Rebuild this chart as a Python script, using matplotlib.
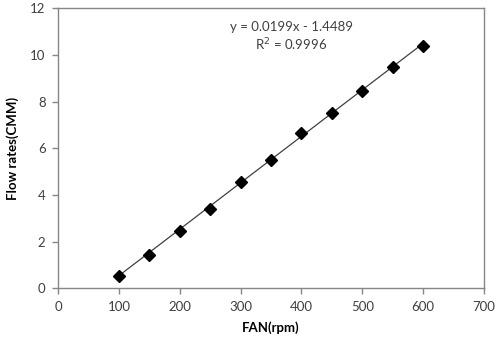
import matplotlib
matplotlib.use("Agg")
import matplotlib.pyplot as plt
import numpy as np

# fan speed vs flow rate
fan_rpm = [100, 150, 200, 250, 300, 350, 400, 450, 500, 550, 600]
flow_cmm = [0.53, 1.43, 2.46, 3.40, 4.56, 5.50, 6.64, 7.50, 8.47, 9.46, 10.40]

slope = 0.0199
intercept = -1.4489
eq_text = "y = 0.0199x - 1.4489"
r2_text = "R$^2$ = 0.9996"

plt.rcParams['font.family'] = ['Lato', 'DejaVu Sans']

fig = plt.figure(figsize=(4.96, 3.40), dpi=100)
ax = fig.add_axes([0.117, 0.152, 0.859, 0.824])

# trendline
xs = np.array([min(fan_rpm), max(fan_rpm)])
ax.plot(xs, slope * xs + intercept, color='#404040', lw=0.9, zorder=2)
ax.plot(fan_rpm, flow_cmm, 'D', color='black', ms=6.5, zorder=3, linestyle='none')

ax.set_xlim(0, 700)
ax.set_ylim(0, 12)
ax.set_xticks(range(0, 701, 100))
ax.set_yticks(range(0, 13, 2))

for s in ax.spines.values():
    s.set_color('#868686')
    s.set_linewidth(1.0)
ax.tick_params(direction='out', length=4, width=1.0, color='#868686',
               labelsize=9.5, labelcolor='#404040', pad=5)

ax.set_xlabel('FAN(rpm)', fontsize=9.5, fontweight='bold', labelpad=6)
ax.set_ylabel('Flow rates(CMM)', fontsize=9.5, fontweight='bold', labelpad=8)

ax.text(384, 11.2, eq_text, ha='center', va='center', fontsize=9.5, color='#404040')
ax.text(383, 10.43, r2_text, ha='center', va='center', fontsize=9.5, color='#404040')

fig.savefig('out.png', dpi=100)
